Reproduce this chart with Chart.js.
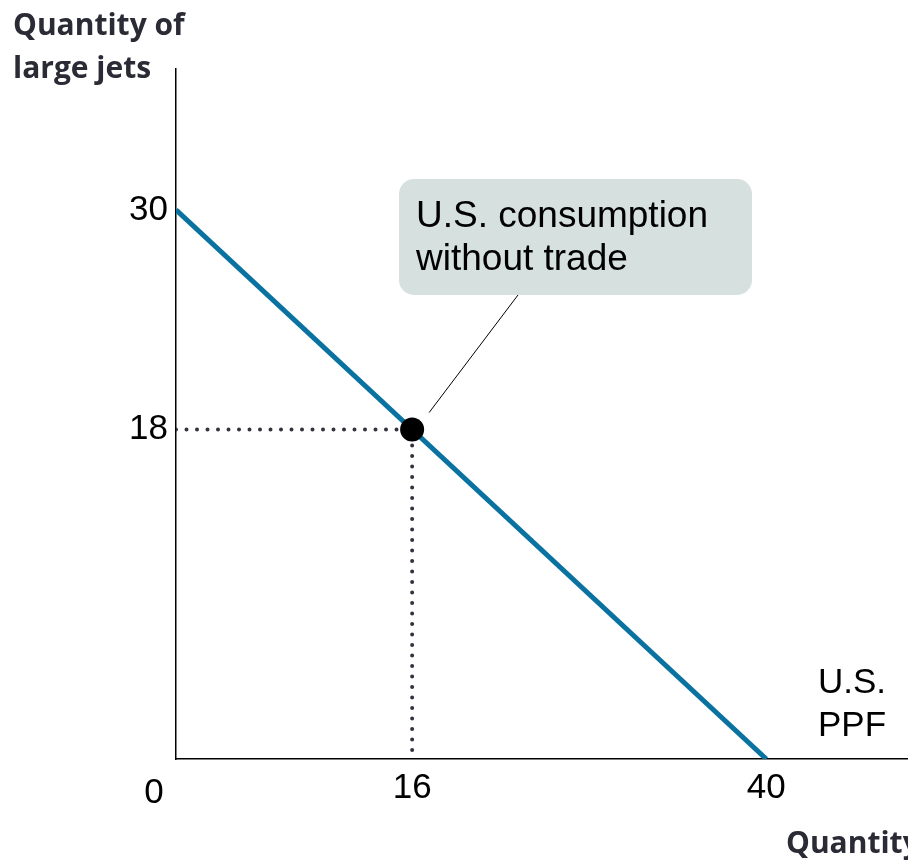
<!DOCTYPE html>
<html>
<head>
<meta charset="utf-8">
<script src="https://cdn.jsdelivr.net/npm/chart.js@4.4.0/dist/chart.umd.min.js"></script>
<style>
html, body { margin: 0; padding: 0; background: #fff; }
</style>
</head>
<body>
<canvas id="myChart" width="908" height="861"></canvas>
<script>
// U.S. production possibilities frontier, large jets vs the other good
var ppfX = [0, 40];
var ppfY = [30, 0];
var pointX = [16];
var pointY = [18];
var xTickValues = [16, 40];
var yTickValues = [18, 30];
var originLabel = '0';
var yTitle = ['Quantity of', 'large jets'];
var xTitle = 'Quantity of';
var ppfLabel = ['U.S.', 'PPF'];
var noteLabel = ['U.S. consumption', 'without trade'];

var blue = '#0a72a0';
var dotColor = '#33333f';
var ctx = document.getElementById('myChart').getContext('2d');

var ppfData = ppfX.map(function (x, i) { return { x: x, y: ppfY[i] }; });
var pointData = pointX.map(function (x, i) { return { x: x, y: pointY[i] }; });
// dotted guides: y axis -> point -> x axis
var guideData = [
    { x: 0, y: pointY[0] },
    { x: pointX[0], y: pointY[0] },
    { x: pointX[0], y: 0 }
];

var textPlugin = {
    id: 'textPlugin',
    beforeDatasetsDraw: function (chart) {
        var c = chart.ctx;
        var xs = chart.scales.x, ys = chart.scales.y;
        var px = xs.getPixelForValue(pointX[0]);
        var py = ys.getPixelForValue(pointY[0]);
        c.save();
        // note box
        c.fillStyle = '#d6e0df';
        c.beginPath();
        c.roundRect(399, 179, 353, 116, 15);
        c.fill();
        // leader line
        c.strokeStyle = '#000';
        c.lineWidth = 1;
        c.beginPath();
        c.moveTo(518, 295);
        c.lineTo(px + 17, py - 17);
        c.stroke();
        c.fillStyle = '#000';
        c.font = '37px "Liberation Sans", Arial, sans-serif';
        c.textAlign = 'left';
        c.textBaseline = 'alphabetic';
        c.fillText(noteLabel[0], 416, 227);
        c.fillText(noteLabel[1], 416, 270);
        c.restore();
    },
    afterDraw: function (chart) {
        var c = chart.ctx;
        var xs = chart.scales.x;
        c.save();
        c.fillStyle = '#2b2b36';
        c.font = 'bold 30px "Open Sans", sans-serif';
        c.textAlign = 'left';
        c.textBaseline = 'alphabetic';
        c.fillText(yTitle[0], 13, 35);
        c.fillText(yTitle[1], 13, 78);
        c.fillText(xTitle, 786, 853);
        c.fillStyle = '#000';
        c.font = '35px "Liberation Sans", Arial, sans-serif';
        c.fillText(ppfLabel[0], 818, 693);
        c.fillText(ppfLabel[1], 818, 736);
        c.textAlign = 'center';
        c.fillText(originLabel, xs.getPixelForValue(0) - 22, 803);
        c.restore();
    }
};

var myChart = new Chart(ctx, {
    type: 'scatter',
    data: {
        datasets: [{
            label: 'U.S. consumption without trade',
            data: pointData,
            pointRadius: 12,
            pointBackgroundColor: '#000',
            pointBorderWidth: 0,
            order: 0
        }, {
            label: 'U.S. PPF',
            data: ppfData,
            showLine: true,
            borderColor: blue,
            borderWidth: 5,
            pointRadius: 0,
            order: 1
        }, {
            label: 'guides',
            data: guideData,
            showLine: true,
            borderColor: dotColor,
            borderWidth: 4,
            borderDash: [0, 10.5],
            borderCapStyle: 'round',
            pointRadius: 0,
            order: 2
        }]
    },
    options: {
        responsive: false,
        animation: false,
        layout: { autoPadding: false, padding: { top: 69, left: 0, right: 0, bottom: 0 } },
        plugins: {
            legend: { display: false },
            tooltip: { enabled: false }
        },
        scales: {
            x: {
                type: 'linear',
                min: 0,
                max: 49.6,
                grid: { display: false, drawTicks: false },
                border: { color: '#000', width: 1.5 },
                afterBuildTicks: function (scale) {
                    scale.ticks = xTickValues.map(function (v) { return { value: v }; });
                },
                afterFit: function (scale) { scale.height = 102; },
                ticks: {
                    color: '#000',
                    padding: 8,
                    maxRotation: 0,
                    font: { family: '"Liberation Sans", Arial, sans-serif', size: 35 }
                }
            },
            y: {
                type: 'linear',
                min: 0,
                max: 37.7,
                grid: { display: false, drawTicks: false },
                border: { color: '#000', width: 1.5 },
                afterBuildTicks: function (scale) {
                    scale.ticks = yTickValues.map(function (v) { return { value: v }; });
                },
                afterFit: function (scale) { scale.width = 176; },
                ticks: {
                    color: '#000',
                    padding: 8,
                    font: { family: '"Liberation Sans", Arial, sans-serif', size: 35 }
                }
            }
        }
    },
    plugins: [textPlugin]
});
</script>
</body>
</html>
